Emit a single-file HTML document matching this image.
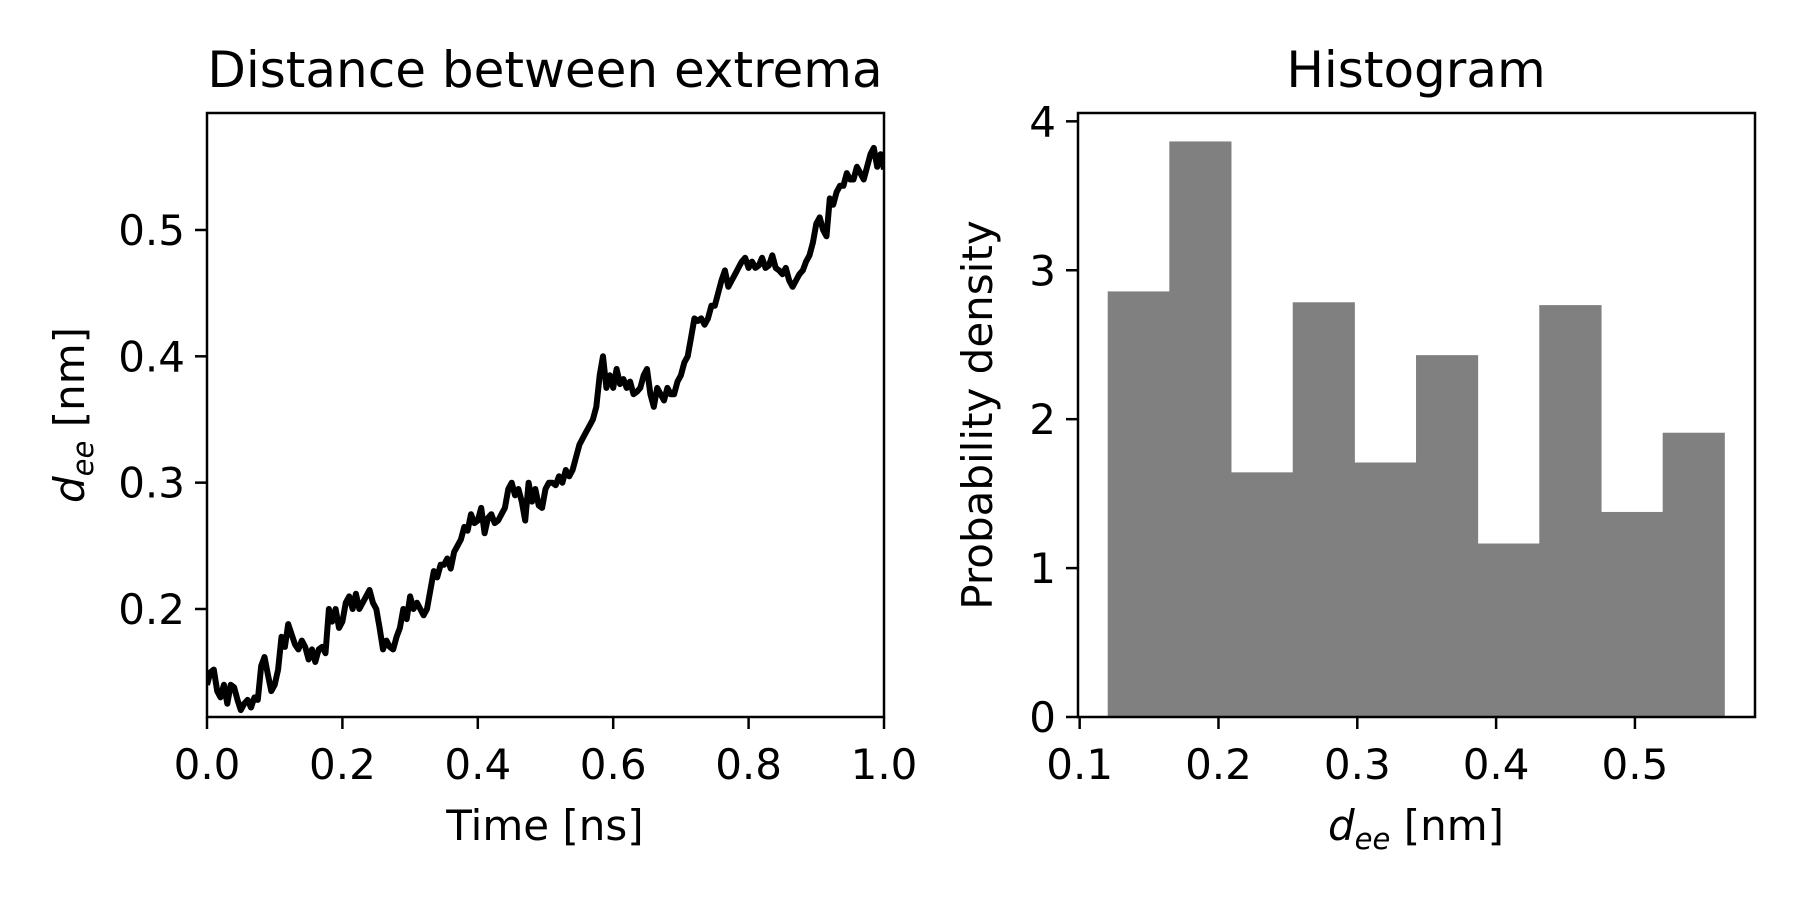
<!DOCTYPE html>
<html><head><meta charset="utf-8"><style>
html,body{margin:0;padding:0;background:#fff;}
svg{display:block;font-family:"DejaVu Sans","Liberation Sans",sans-serif;}
</style></head><body>
<svg id="fig" width="1800" height="900" viewBox="0 0 1800 900" xmlns="http://www.w3.org/2000/svg">
<rect width="1800" height="900" fill="#fff"/>
<text x="545" y="87" font-size="50" text-anchor="middle">Distance between extrema</text>
<text x="1416" y="87" font-size="50" text-anchor="middle">Histogram</text>
<text x="545" y="840" font-size="42" text-anchor="middle">Time [ns]</text>
<text transform="translate(84,415) rotate(-90)" font-size="42" text-anchor="middle"><tspan font-style="italic">d</tspan><tspan font-style="italic" font-size="29" dy="9">ee</tspan><tspan dy="-9"> [nm]</tspan></text>
<text x="1416" y="840" font-size="42" text-anchor="middle"><tspan font-style="italic">d</tspan><tspan font-style="italic" font-size="29" dy="9">ee</tspan><tspan dy="-9"> [nm]</tspan></text>
<text transform="translate(992,415) rotate(-90)" font-size="42" text-anchor="middle">Probability density</text>
<g id="left"></g>
<g id="right"></g>
</svg>
<script>
const timeValues = [0,0.005,0.01,0.015,0.02,0.025,0.03,0.035,0.04,0.045,0.05,0.055,0.06,0.065,0.07,0.075,0.08,0.085,0.09,0.095,0.10,0.105,0.11,0.115,0.12,0.125,0.13,0.135,0.14,0.145,0.15,0.155,0.16,0.165,0.17,0.175,0.18,0.185,0.19,0.195,0.20,0.205,0.21,0.215,0.22,0.225,0.23,0.235,0.24,0.245,0.25,0.255,0.26,0.265,0.27,0.275,0.28,0.285,0.29,0.295,0.30,0.305,0.31,0.315,0.32,0.325,0.33,0.335,0.34,0.345,0.35,0.355,0.36,0.365,0.37,0.375,0.38,0.385,0.39,0.395,0.40,0.405,0.41,0.415,0.42,0.425,0.43,0.435,0.44,0.445,0.45,0.455,0.46,0.465,0.47,0.475,0.48,0.485,0.49,0.495,0.50,0.505,0.51,0.515,0.52,0.525,0.53,0.535,0.54,0.545,0.55,0.555,0.56,0.565,0.57,0.575,0.58,0.585,0.59,0.595,0.60,0.605,0.61,0.615,0.62,0.625,0.63,0.635,0.64,0.645,0.65,0.655,0.66,0.665,0.67,0.675,0.68,0.685,0.69,0.695,0.70,0.705,0.71,0.715,0.72,0.725,0.73,0.735,0.74,0.745,0.75,0.755,0.76,0.765,0.77,0.775,0.78,0.785,0.79,0.795,0.80,0.805,0.81,0.815,0.82,0.825,0.83,0.835,0.84,0.845,0.85,0.855,0.86,0.865,0.87,0.875,0.88,0.885,0.89,0.895,0.90,0.905,0.91,0.915,0.92,0.925,0.93,0.935,0.94,0.945,0.95,0.955,0.96,0.965,0.97,0.975,0.98,0.985,0.99,0.995,1.0];
const distValues = [0.14,0.15,0.152,0.135,0.13,0.14,0.125,0.14,0.138,0.128,0.12,0.125,0.128,0.122,0.13,0.128,0.155,0.162,0.148,0.135,0.14,0.152,0.178,0.17,0.188,0.18,0.172,0.168,0.175,0.17,0.16,0.168,0.158,0.168,0.17,0.165,0.2,0.19,0.2,0.185,0.19,0.205,0.21,0.2,0.212,0.2,0.205,0.21,0.215,0.205,0.2,0.185,0.168,0.175,0.17,0.168,0.178,0.185,0.2,0.192,0.21,0.2,0.205,0.2,0.195,0.2,0.215,0.23,0.225,0.235,0.235,0.24,0.232,0.245,0.25,0.255,0.265,0.262,0.275,0.268,0.27,0.28,0.26,0.272,0.275,0.268,0.27,0.275,0.28,0.295,0.3,0.29,0.295,0.285,0.27,0.3,0.285,0.295,0.282,0.28,0.295,0.3,0.3,0.298,0.305,0.3,0.31,0.305,0.31,0.32,0.33,0.335,0.34,0.345,0.35,0.36,0.385,0.4,0.375,0.385,0.375,0.39,0.378,0.382,0.375,0.38,0.37,0.372,0.375,0.385,0.39,0.37,0.36,0.375,0.37,0.365,0.375,0.37,0.37,0.38,0.385,0.395,0.4,0.415,0.43,0.428,0.43,0.425,0.43,0.44,0.44,0.45,0.46,0.468,0.455,0.46,0.465,0.47,0.475,0.478,0.47,0.475,0.47,0.472,0.478,0.47,0.472,0.48,0.47,0.468,0.465,0.47,0.46,0.455,0.46,0.465,0.468,0.475,0.48,0.49,0.505,0.51,0.5,0.495,0.525,0.52,0.53,0.535,0.535,0.545,0.54,0.54,0.55,0.545,0.54,0.55,0.56,0.565,0.55,0.56,0.548];
const leftXTicks = [0.0,0.2,0.4,0.6,0.8,1.0];
const leftXTickLabels = ["0.0","0.2","0.4","0.6","0.8","1.0"];
const leftYTicks = [0.2,0.3,0.4,0.5];
const leftYTickLabels = ["0.2","0.3","0.4","0.5"];
const binEdges = [0.1202,0.1646,0.2090,0.2535,0.2979,0.3423,0.3867,0.4311,0.4756,0.5200,0.5644];
const binDensities = [2.858,3.865,1.643,2.785,1.709,2.430,1.165,2.766,1.377,1.909];
const rightXTicks = [0.1,0.2,0.3,0.4,0.5];
const rightXTickLabels = ["0.1","0.2","0.3","0.4","0.5"];
const rightYTicks = [0,1,2,3,4];
const rightYTickLabels = ["0","1","2","3","4"];

const NS="http://www.w3.org/2000/svg";
function mk(tag,attrs,parent){const e=document.createElementNS(NS,tag);for(const k in attrs)e.setAttribute(k,attrs[k]);parent.appendChild(e);return e;}

const L={x0:207,x1:884,y0:113,y1:717,xmin:0,xmax:1,ymin:0.1145,ymax:0.5926};
const lx=v=>L.x0+(v-L.xmin)/(L.xmax-L.xmin)*(L.x1-L.x0);
const ly=v=>L.y1-(v-L.ymin)/(L.ymax-L.ymin)*(L.y1-L.y0);
const lg=document.getElementById('left');
const cp=mk('clipPath',{id:'clipL'},lg);
mk('rect',{x:L.x0,y:L.y0,width:L.x1-L.x0,height:L.y1-L.y0},cp);
const n=Math.min(timeValues.length,distValues.length);
let d='';for(let i=0;i<n;i++){d+=(i?'L':'M')+lx(timeValues[i]).toFixed(1)+','+ly(distValues[i]).toFixed(1);}
const line=mk('path',{d:d,fill:'none',stroke:'#000','stroke-width':6,'stroke-linejoin':'round','clip-path':'url(#clipL)'},lg);


leftXTicks.forEach((v,i)=>{
  const tk=mk('line',{x1:lx(v),x2:lx(v),y1:L.y1,y2:L.y1+12,stroke:'#000','stroke-width':2.5},lg);
  
  
  const tx=mk('text',{x:lx(v),y:L.y1+62,'font-size':42,'text-anchor':'middle'},lg);tx.textContent=leftXTickLabels[i];
  
  
});
leftYTicks.forEach((v,i)=>{
  const tk=mk('line',{x1:L.x0-12,x2:L.x0,y1:ly(v),y2:ly(v),stroke:'#000','stroke-width':2.5},lg);
  
  
  const tx=mk('text',{x:L.x0-22,y:ly(v)+15,'font-size':42,'text-anchor':'end'},lg);tx.textContent=leftYTickLabels[i];
  
  
});
const lf=mk('rect',{x:L.x0,y:L.y0,width:L.x1-L.x0,height:L.y1-L.y0,fill:'none',stroke:'#000','stroke-width':2.5},lg);



const R={x0:1078,x1:1755,y0:113,y1:717,xmin:0.0988,xmax:0.5865,ymin:0,ymax:4.056};
const rx=v=>R.x0+(v-R.xmin)/(R.xmax-R.xmin)*(R.x1-R.x0);
const ry=v=>R.y1-(v-R.ymin)/(R.ymax-R.ymin)*(R.y1-R.y0);
const rg=document.getElementById('right');
binDensities.forEach((h,i)=>{
  const b=mk('rect',{x:rx(binEdges[i]),y:ry(h),width:rx(binEdges[i+1])-rx(binEdges[i])+0.5,height:ry(0)-ry(h),fill:'#808080'},rg);
  
  
});
rightXTicks.forEach((v,i)=>{
  const tk=mk('line',{x1:rx(v),x2:rx(v),y1:R.y1,y2:R.y1+12,stroke:'#000','stroke-width':2.5},rg);
  
  
  const tx=mk('text',{x:rx(v),y:R.y1+62,'font-size':42,'text-anchor':'middle'},rg);tx.textContent=rightXTickLabels[i];
  
  
});
rightYTicks.forEach((v,i)=>{
  const tk=mk('line',{x1:R.x0-12,x2:R.x0,y1:ry(v),y2:ry(v),stroke:'#000','stroke-width':2.5},rg);
  
  
  const tx=mk('text',{x:R.x0-22,y:ry(v)+15,'font-size':42,'text-anchor':'end'},rg);tx.textContent=rightYTickLabels[i];
  
  
});
const rf=mk('rect',{x:R.x0,y:R.y0,width:R.x1-R.x0,height:R.y1-R.y0,fill:'none',stroke:'#000','stroke-width':2.5},rg);


</script>
</body></html>
